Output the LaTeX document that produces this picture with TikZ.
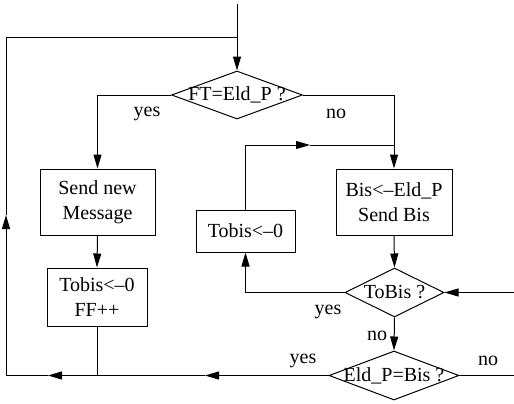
\documentclass[tikz,border=0pt]{standalone}
\usepackage{fontspec}
\setmainfont{Liberation Serif}
\usetikzlibrary{shapes.geometric,arrows.meta}

\begin{document}
\begin{tikzpicture}[x=0.6pt,y=-0.6pt,line width=0.6pt,
    >={Triangle[length=8.4pt,width=4.8pt]},
    every node/.style={font=\fontsize{12}{15}\selectfont},
    box/.style={draw,align=center,inner sep=0pt},
    decision/.style={draw,diamond,inner sep=0pt}]

      \useasboundingbox (0,0) rectangle (514,403);

      \node[decision,minimum width=78.6pt,minimum height=28.8pt] (ft) at (237,95) {\makebox[0pt]{FT=Eld\_P ?}};
      \node[box,minimum width=69pt,minimum height=39.6pt] (send) at (97.5,202) {Send new\\Message};
      \node[box,minimum width=69.6pt,minimum height=39.6pt] (bis) at (394,202) {Bis<--Eld\_P\\Send Bis};
      \node[box,minimum width=59.4pt,minimum height=25.2pt] (tobis) at (245.5,231) {Tobis<--0};
      \node[box,minimum width=60pt,minimum height=34.8pt] (ff) at (97,297) {Tobis<--0\\FF++};
      \node[decision,minimum width=59.4pt,minimum height=29.4pt] (tb) at (394.5,292.5) {\makebox[0pt]{ToBis ?}};
      \node[decision,minimum width=78pt,minimum height=29.4pt] (eld) at (394,375.5) {\makebox[0pt]{Eld\_P=Bis ?}};

      \node (ftyes) at (147,114) {yes};
      \node (ftno) at (336,114) {no};
      \node (tbyes) at (328,312) {yes};
      \node (tbno) at (377,336) {no};
      \node (eldyes) at (303,361) {yes};
      \node (eldno) at (488,361) {no};

      \coordinate (in) at (237,4);
      \coordinate (join) at (237,37);
      \coordinate (up) at (310,145);
      \coordinate (rin) at (514,292.5);
      \coordinate (rout) at (514,375.5);
      \coordinate (b1) at (205,375.5);
      \coordinate (b2) at (48,375.5);
      \coordinate (b3) at (6,215);

      \draw[->] (in) -- (ft.north);
      \draw[->] (ft.west) -| (send.north);
      \draw[->] (ft.east) -| (bis.north);
      \draw[->] (send.south) -- (ff.north);
      \draw[->] (bis.south) -- (tb.north);
      \draw[->] (tb.west) -| (tobis.south);
      \draw[->] (tobis.north) |- (up);
      \draw (up) -- (up -| bis.north);
      \draw[->] (rin) -- (tb.east);
      \draw[->] (tb.south) -- (eld.north);
      \draw (eld.east) -- (rout);

      \draw[->] (eld.west) -- (b1);
      \draw[->] (b1) -- (b2);
      \draw[->] (b2) -| (b3);
      \draw (b3) |- (join);
      \draw (ff.south) -- (ff.south |- b1);

    \end{tikzpicture}
\end{document}
